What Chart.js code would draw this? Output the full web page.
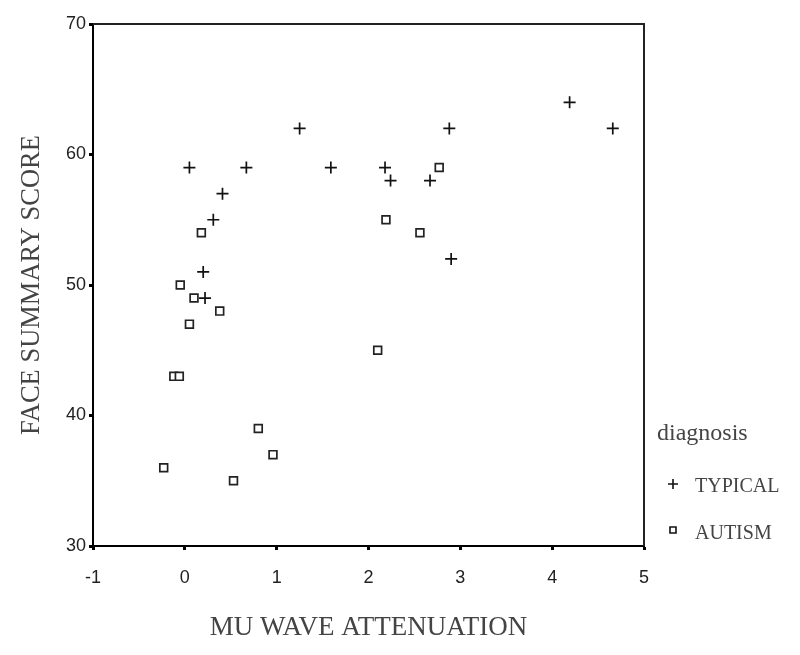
<!DOCTYPE html>
<html>
<head>
<meta charset="utf-8">
<script src="https://cdn.jsdelivr.net/npm/chart.js@4"></script>
<style>
  html, body { margin: 0; padding: 0; background: #fff; }
  #wrap { width: 800px; height: 655px; }
</style>
</head>
<body>
<div id="wrap"><canvas id="c" width="800" height="655"></canvas></div>
<script>
// ---- data ----
const seriesNames = ['TYPICAL', 'AUTISM'];
const typicalX = [0.05, 0.67, 1.25, 1.59, 2.18, 2.24, 2.67, 2.88, 2.90, 4.19, 4.66, 0.41, 0.31, 0.20, 0.22];
const typicalY = [59, 59, 62, 59, 59, 58, 58, 62, 52, 64, 62, 57, 55, 51, 49];
const autismX = [0.18, 2.77, 2.19, 2.56, 2.10, -0.05, 0.10, 0.38, 0.05, -0.12, -0.06, 0.80, 0.96, -0.23, 0.53];
const autismY = [54, 59, 55, 54, 45, 50, 49, 48, 47, 43, 43, 39, 37, 36, 35];
const xTicks = [-1, 0, 1, 2, 3, 4, 5];
const yTicks = [30, 40, 50, 60, 70];
const xTitle = 'MU WAVE ATTENUATION';
const yTitle = 'FACE SUMMARY SCORE';
const legendTitle = 'diagnosis';

const toPts = (xs, ys) => xs.map((x, i) => ({ x: x, y: ys[i] }));

const frame = {
  id: 'frame',
  afterDatasetsDraw(chart) {
    const { ctx, chartArea: a } = chart;
    ctx.save();
    ctx.strokeStyle = '#222';
    ctx.lineWidth = 2;
    ctx.beginPath();
    ctx.moveTo(a.left, a.top);
    ctx.lineTo(a.right, a.top);
    ctx.lineTo(a.right, a.bottom);
    ctx.stroke();
    ctx.restore();
  }
};

const legendPlug = {
  id: 'legendPlug',
  afterDraw(chart) {
    const ctx = chart.ctx;
    ctx.save();
    ctx.fillStyle = '#444';
    ctx.textBaseline = 'middle';
    ctx.textAlign = 'left';
    ctx.font = '24px "Liberation Serif"';
    ctx.fillText(legendTitle, 657, 434);
    ctx.font = '20px "Liberation Serif"';
    const rows = [486, 533];
    chart.data.datasets.forEach((ds, i) => {
      const y = rows[i];
      const x = 673;
      ctx.strokeStyle = '#111';
      ctx.lineWidth = 1.6;
      ctx.beginPath();
      if (ds.pointStyle === 'cross') {
        ctx.moveTo(x - 5, y - 2); ctx.lineTo(x + 5, y - 2);
        ctx.moveTo(x, y - 7); ctx.lineTo(x, y + 3);
        ctx.stroke();
      } else {
        ctx.fillStyle = '#fff';
        ctx.rect(x - 3, y - 6, 6, 6);
        ctx.fill();
        ctx.stroke();
      }
      ctx.fillStyle = '#444';
      ctx.fillText(ds.label, 695, y + 1);
    });
    ctx.restore();
  }
};

new Chart(document.getElementById('c'), {
  type: 'scatter',
  data: {
    datasets: [
      {
        label: seriesNames[0],
        data: toPts(typicalX, typicalY),
        pointStyle: 'cross',
        pointRadius: 6,
        pointHoverRadius: 6,
        borderColor: '#111',
        backgroundColor: '#111',
        borderWidth: 1.7
      },
      {
        label: seriesNames[1],
        data: toPts(autismX, autismY),
        pointStyle: 'rect',
        pointRadius: 5.5,
        pointHoverRadius: 5.5,
        borderColor: '#222',
        backgroundColor: '#fff',
        borderWidth: 1.7
      }
    ]
  },
  options: {
    responsive: false,
    animation: false,
    events: [],
    layout: { padding: { top: 24, right: 156, left: 0, bottom: 0 } },
    plugins: {
      legend: { display: false },
      tooltip: { enabled: false }
    },
    scales: {
      x: {
        type: 'linear',
        min: -1, max: 5,
        afterBuildTicks(s) { s.ticks = xTicks.map(v => ({ value: v })); },
        afterFit(s) { s.height = 109; },
        grid: { drawOnChartArea: false, drawTicks: true, tickLength: 4, tickWidth: 3, tickColor: '#000' },
        border: { color: '#000', width: 2 },
        ticks: { color: '#222', padding: 17, font: { family: '"Liberation Sans"', size: 18 }, maxRotation: 0 },
        title: { display: true, text: xTitle, color: '#444', font: { family: '"Liberation Serif"', size: 27 }, padding: { top: 0, bottom: 11 } }
      },
      y: {
        type: 'linear',
        min: 30, max: 70,
        afterBuildTicks(s) { s.ticks = yTicks.map(v => ({ value: v })); },
        afterFit(s) { s.width = 93; },
        grid: { drawOnChartArea: false, drawTicks: true, tickLength: 4, tickWidth: 3, tickColor: '#000' },
        border: { color: '#000', width: 2 },
        ticks: { color: '#222', padding: 3, font: { family: '"Liberation Sans"', size: 18 } },
        title: { display: true, text: yTitle, color: '#444', font: { family: '"Liberation Serif"', size: 26.5 }, padding: { top: 16, bottom: 0 } }
      }
    }
  },
  plugins: [frame, legendPlug]
});
</script>
</body>
</html>
